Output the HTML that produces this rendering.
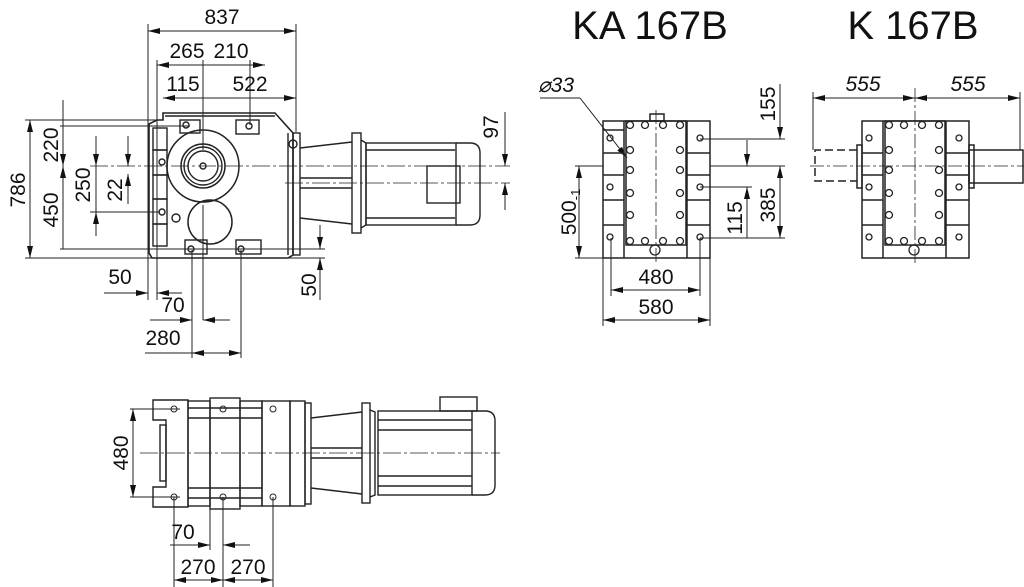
<!DOCTYPE html>
<html><head><meta charset="utf-8"><style>
html,body{margin:0;padding:0;background:#fff;}
svg{display:block;}
text{font-family:"Liberation Sans",sans-serif;fill:#111;}
.d{font-size:21px;}
.t{font-size:40px;}
</style></head><body>
<svg width="1024" height="587" viewBox="0 0 1024 587" xmlns="http://www.w3.org/2000/svg">
<defs>
<marker id="a" viewBox="0 0 12 6" refX="12" refY="3" markerWidth="12" markerHeight="6" orient="auto-start-reverse" markerUnits="userSpaceOnUse"><path d="M0,0 L12,3 L0,6 z" fill="#111"/></marker>
</defs>
<g stroke="#222" fill="none" stroke-width="1">
<line x1="148" y1="24" x2="148" y2="300"/>
<line x1="296" y1="24" x2="296" y2="132"/>
<line x1="157" y1="60" x2="157" y2="300"/>
<line x1="203" y1="60" x2="203" y2="150"/>
<line x1="203" y1="205" x2="203" y2="320"/>
<line x1="250" y1="60" x2="250" y2="125"/>
<line x1="192" y1="250" x2="192" y2="358"/>
<line x1="241" y1="250" x2="241" y2="358"/>
<line x1="25" y1="120" x2="160" y2="120"/>
<line x1="60" y1="126" x2="190" y2="126"/>
<line x1="25" y1="258" x2="325" y2="258"/>
<line x1="60" y1="249" x2="325" y2="249"/>
<line x1="90" y1="212" x2="160" y2="212"/>
<line x1="148" y1="31" x2="296" y2="31" marker-start="url(#a)" marker-end="url(#a)"/>
<line x1="157" y1="65" x2="265" y2="65" marker-start="url(#a)" marker-end="url(#a)"/>
<line x1="163" y1="98" x2="296" y2="98" marker-start="url(#a)" marker-end="url(#a)"/>
<line x1="30" y1="120" x2="30" y2="258" marker-start="url(#a)" marker-end="url(#a)"/>
<line x1="63" y1="100" x2="63" y2="166" marker-end="url(#a)"/>
<line x1="63" y1="166" x2="63" y2="249" marker-start="url(#a)"/>
<line x1="96" y1="136" x2="96" y2="236" />
<line x1="96" y1="136" x2="96" y2="166" marker-end="url(#a)"/>
<line x1="96" y1="212" x2="96" y2="236" marker-start="url(#a)"/>
<line x1="128" y1="136" x2="128" y2="166" marker-end="url(#a)"/>
<line x1="128" y1="174" x2="128" y2="204" marker-start="url(#a)"/>
<line x1="104" y1="293" x2="148" y2="293" marker-end="url(#a)"/>
<line x1="157" y1="293" x2="182" y2="293" marker-start="url(#a)"/>
<line x1="150" y1="320" x2="192" y2="320" marker-end="url(#a)"/>
<line x1="203" y1="320" x2="230" y2="320" marker-start="url(#a)"/>
<line x1="145" y1="353" x2="192" y2="353"/>
<line x1="192" y1="353" x2="241" y2="353" marker-start="url(#a)" marker-end="url(#a)"/>
<line x1="320" y1="225" x2="320" y2="249" marker-end="url(#a)"/>
<line x1="320" y1="258" x2="320" y2="300" marker-start="url(#a)"/>
<line x1="505" y1="112" x2="505" y2="166" marker-end="url(#a)"/>
<line x1="505" y1="183" x2="505" y2="210" marker-start="url(#a)"/>
<line x1="90" y1="166" x2="510" y2="166" stroke-dasharray="18,3,3,3" stroke-width="0.8"/>
<line x1="285" y1="183" x2="510" y2="183" stroke-dasharray="18,3,3,3" stroke-width="0.8"/>
<g stroke-width="1.4">
<path d="M163,113 L275,113 L293,133 L293,255 L288,258 L152,258 L149,253 L149,124 L157,120 L163,120 Z" stroke-width="1.6"/>
<line x1="165" y1="116" x2="275" y2="116"/>
<line x1="288" y1="133" x2="288" y2="255"/>
<rect x="293" y="133" width="7" height="122"/>
<rect x="153" y="128" width="14" height="22"/>
<rect x="153" y="150" width="14" height="25"/>
<rect x="153" y="175" width="14" height="24"/>
<rect x="153" y="199" width="14" height="25"/>
<rect x="153" y="224" width="14" height="22"/>
<rect x="180" y="120" width="20" height="13"/>
<rect x="236" y="120" width="23" height="14"/>
<rect x="185" y="240" width="22" height="14"/>
<rect x="236" y="240" width="25" height="14"/>
<circle cx="203" cy="166" r="36" stroke-width="1.5"/>
<circle cx="203" cy="166" r="22" stroke-width="1.5"/>
<circle cx="203" cy="166" r="19"/>
<circle cx="203" cy="166" r="15"/>
<circle cx="203" cy="166" r="3"/>
<circle cx="210" cy="222" r="22" stroke-width="1.5"/>
<circle cx="186" cy="125" r="3"/><circle cx="249" cy="126" r="3"/>
<circle cx="162" cy="162" r="3"/><circle cx="162" cy="212" r="3"/>
<circle cx="191" cy="249" r="3"/><circle cx="241" cy="249" r="3"/>
<circle cx="293" cy="144" r="4"/><circle cx="176" cy="218" r="4"/>
<path d="M300,148 L352,142 M300,218 L352,224 M300,178 L352,178 M300,188 L352,188"/>
<rect x="352" y="133" width="9" height="100"/>
<path d="M361,140 L366,143 L366,225 L361,228"/>
<rect x="366" y="143" width="90" height="82"/>
<path d="M456,143 L470,143 Q480,143 480,153 L480,215 Q480,225 470,225 L456,225"/>
<line x1="366" y1="150" x2="455" y2="150"/><line x1="366" y1="218" x2="455" y2="218"/>
<rect x="427" y="166" width="33" height="37"/>
</g>

<line x1="540" y1="98" x2="580" y2="98"/>
<line x1="580" y1="98" x2="627" y2="158" marker-end="url(#a)"/>
<line x1="579" y1="166" x2="579" y2="258" marker-start="url(#a)" marker-end="url(#a)"/>
<line x1="575" y1="166" x2="603" y2="166"/>
<line x1="575" y1="258" x2="603" y2="258"/>
<line x1="611" y1="238" x2="611" y2="296"/><line x1="700" y1="238" x2="700" y2="296"/>
<line x1="603" y1="258" x2="603" y2="326"/><line x1="710" y1="258" x2="710" y2="326"/>
<line x1="611" y1="290" x2="700" y2="290" marker-start="url(#a)" marker-end="url(#a)"/>
<line x1="603" y1="320" x2="710" y2="320" marker-start="url(#a)" marker-end="url(#a)"/>
<line x1="700" y1="139" x2="785" y2="139"/>
<line x1="700" y1="187" x2="752" y2="187"/>
<line x1="700" y1="238" x2="785" y2="238"/>
<line x1="710" y1="166" x2="785" y2="166"/>
<line x1="780" y1="84" x2="780" y2="139" marker-end="url(#a)"/>
<line x1="780" y1="166" x2="780" y2="238" marker-start="url(#a)" marker-end="url(#a)"/>
<line x1="747" y1="140" x2="747" y2="166" marker-end="url(#a)"/>
<line x1="747" y1="187" x2="747" y2="238" marker-start="url(#a)"/>
<line x1="656" y1="110" x2="656" y2="262" stroke-dasharray="14,3,3,3" stroke-width="0.8"/>
<g stroke-width="1.5">
<rect x="603" y="121" width="107" height="137"/>
<rect x="626" y="121" width="60" height="124"/>
<line x1="624" y1="121" x2="624" y2="258"/><line x1="687" y1="121" x2="687" y2="258"/>
<line x1="603" y1="130" x2="624" y2="130"/><line x1="603" y1="153" x2="624" y2="153"/>
<line x1="603" y1="175" x2="624" y2="175"/><line x1="603" y1="200" x2="624" y2="200"/><line x1="603" y1="225" x2="624" y2="225"/>
<line x1="687" y1="153" x2="710" y2="153"/><line x1="687" y1="175" x2="710" y2="175"/><line x1="687" y1="200" x2="710" y2="200"/><line x1="687" y1="225" x2="710" y2="225"/>
<rect x="650" y="114" width="14" height="7"/>
</g>
<g stroke-width="1.3">
<circle cx="610" cy="138" r="3"/><circle cx="700" cy="138" r="3"/>
<circle cx="610" cy="187" r="3"/><circle cx="700" cy="187" r="3"/>
<circle cx="610" cy="237" r="3"/><circle cx="700" cy="237" r="3"/>
<circle cx="630" cy="125" r="3.5"/><circle cx="645" cy="125" r="3.5"/><circle cx="663" cy="125" r="3.5"/><circle cx="680" cy="125" r="3.5"/>
<circle cx="630" cy="150" r="3.5"/><circle cx="680" cy="150" r="3.5"/>
<circle cx="630" cy="170" r="3.5"/><circle cx="680" cy="170" r="3.5"/>
<circle cx="630" cy="193" r="3.5"/><circle cx="680" cy="193" r="3.5"/>
<circle cx="630" cy="215" r="3.5"/><circle cx="680" cy="215" r="3.5"/>
<circle cx="630" cy="241" r="3.5"/><circle cx="645" cy="241" r="3.5"/><circle cx="663" cy="241" r="3.5"/><circle cx="680" cy="241" r="3.5"/>
<circle cx="655" cy="250" r="5"/>
</g>

<line x1="813" y1="92" x2="813" y2="150"/><line x1="1020" y1="92" x2="1020" y2="150"/>
<line x1="813" y1="98" x2="915" y2="98" marker-start="url(#a)" marker-end="url(#a)"/>
<line x1="915" y1="98" x2="1020" y2="98" marker-start="url(#a)" marker-end="url(#a)"/>
<line x1="915" y1="88" x2="915" y2="265" stroke-dasharray="14,3,3,3" stroke-width="0.8"/>
<line x1="810" y1="166" x2="1024" y2="166" stroke-dasharray="14,3,3,3" stroke-width="0.8"/>
<g stroke-width="1.5">
<rect x="862" y="121" width="107" height="137"/>
<rect x="885" y="121" width="60" height="124"/>
<line x1="883" y1="121" x2="883" y2="258"/><line x1="946" y1="121" x2="946" y2="258"/>
<line x1="862" y1="153" x2="883" y2="153"/><line x1="862" y1="175" x2="883" y2="175"/><line x1="862" y1="200" x2="883" y2="200"/><line x1="862" y1="225" x2="883" y2="225"/>
<line x1="946" y1="153" x2="969" y2="153"/><line x1="946" y1="175" x2="969" y2="175"/><line x1="946" y1="200" x2="969" y2="200"/><line x1="946" y1="225" x2="969" y2="225"/>
<rect x="969" y="150" width="54" height="33"/>
<rect x="969" y="145" width="5" height="43"/>
<rect x="857" y="145" width="5" height="43"/>
<path d="M857,150 L815,150 L815,181 L857,181" stroke-dasharray="8,4"/>
</g>
<g stroke-width="1.3">
<circle cx="869" cy="138" r="3"/><circle cx="959" cy="138" r="3"/>
<circle cx="869" cy="187" r="3"/><circle cx="959" cy="187" r="3"/>
<circle cx="869" cy="237" r="3"/><circle cx="959" cy="237" r="3"/>
<circle cx="889" cy="125" r="3.5"/><circle cx="904" cy="125" r="3.5"/><circle cx="922" cy="125" r="3.5"/><circle cx="939" cy="125" r="3.5"/>
<circle cx="889" cy="150" r="3.5"/><circle cx="939" cy="150" r="3.5"/>
<circle cx="889" cy="170" r="3.5"/><circle cx="939" cy="170" r="3.5"/>
<circle cx="889" cy="193" r="3.5"/><circle cx="939" cy="193" r="3.5"/>
<circle cx="889" cy="215" r="3.5"/><circle cx="939" cy="215" r="3.5"/>
<circle cx="889" cy="241" r="3.5"/><circle cx="904" cy="241" r="3.5"/><circle cx="922" cy="241" r="3.5"/><circle cx="939" cy="241" r="3.5"/>
<circle cx="914" cy="250" r="5"/>
</g>

<line x1="130" y1="409" x2="180" y2="409"/><line x1="130" y1="497" x2="180" y2="497"/>
<line x1="133" y1="409" x2="133" y2="497" marker-start="url(#a)" marker-end="url(#a)"/>
<line x1="140" y1="453" x2="500" y2="453" stroke-dasharray="18,3,3,3" stroke-width="0.8"/>
<line x1="174" y1="497" x2="174" y2="587"/>
<line x1="210" y1="497" x2="210" y2="550"/>
<line x1="223" y1="497" x2="223" y2="587"/>
<line x1="273" y1="497" x2="273" y2="587"/>
<line x1="170" y1="545" x2="210" y2="545" marker-end="url(#a)"/>
<line x1="223" y1="545" x2="250" y2="545" marker-start="url(#a)"/>
<line x1="174" y1="580" x2="223" y2="580" marker-start="url(#a)" marker-end="url(#a)"/>
<line x1="223" y1="580" x2="273" y2="580" marker-start="url(#a)" marker-end="url(#a)"/>
<g stroke-width="1.4">
<path d="M153,400 L188,400 L188,507 L153,507 L153,487 L166,487 L166,420 L153,420 Z"/>
<rect x="188" y="401" width="22" height="105"/>
<rect x="210" y="398" width="30" height="111"/>
<rect x="240" y="401" width="22" height="105"/>
<rect x="262" y="401" width="28" height="105"/>
<rect x="290" y="401" width="15" height="105"/>
<rect x="305" y="403" width="6" height="101"/>
<line x1="188" y1="408" x2="262" y2="408"/><line x1="188" y1="418" x2="262" y2="418"/>
<line x1="188" y1="488" x2="262" y2="488"/><line x1="188" y1="498" x2="262" y2="498"/>
<rect x="160" y="425" width="6" height="56"/>
<path d="M311,418 L362,412 M311,488 L362,494 M311,448 L362,448 M311,458 L362,458"/>
<rect x="362" y="403" width="8" height="100"/>
<path d="M370,410 L375,412 L375,495 L370,497"/>
<rect x="378" y="411" width="94" height="84"/>
<line x1="378" y1="420" x2="472" y2="420"/><line x1="378" y1="430" x2="472" y2="430"/>
<line x1="378" y1="476" x2="472" y2="476"/><line x1="378" y1="486" x2="472" y2="486"/>
<path d="M472,411 L485,411 Q495,411 495,421 L495,485 Q495,495 485,495 L472,495"/>
<rect x="440" y="397" width="37" height="14"/>
</g>
<circle cx="174" cy="409" r="3"/><circle cx="223" cy="409" r="3"/><circle cx="273" cy="409" r="3"/>
<circle cx="174" cy="497" r="3"/><circle cx="223" cy="497" r="3"/><circle cx="273" cy="497" r="3"/>
</g>

<text class="d" x="222" y="24" text-anchor="middle">837</text>
<text class="d" x="187" y="58" text-anchor="middle">265</text>
<text class="d" x="231" y="58" text-anchor="middle">210</text>
<text class="d" x="183" y="91" text-anchor="middle">115</text>
<text class="d" x="250" y="91" text-anchor="middle">522</text>
<text class="d" transform="translate(25,190) rotate(-90)" text-anchor="middle">786</text>
<text class="d" transform="translate(58,145) rotate(-90)" text-anchor="middle">220</text>
<text class="d" transform="translate(58,210) rotate(-90)" text-anchor="middle">450</text>
<text class="d" transform="translate(90,185) rotate(-90)" text-anchor="middle">250</text>
<text class="d" transform="translate(122,190) rotate(-90)" text-anchor="middle">22</text>
<text class="d" x="120" y="284" text-anchor="middle">50</text>
<text class="d" x="173" y="312" text-anchor="middle">70</text>
<text class="d" x="163" y="345" text-anchor="middle">280</text>
<text class="d" transform="translate(316,285) rotate(-90)" text-anchor="middle">50</text>
<text class="d" transform="translate(498,127) rotate(-90)" text-anchor="middle">97</text>

<text class="t" x="650" y="39" text-anchor="middle">KA 167B</text>
<text class="t" x="913" y="39" text-anchor="middle">K 167B</text>
<text class="d" x="538" y="92" font-style="italic">⌀33</text>
<text class="d" transform="translate(576,212) rotate(-90)" text-anchor="middle">500<tspan font-size="13" dy="4">-1</tspan></text>
<text class="d" x="656" y="284" text-anchor="middle">480</text>
<text class="d" x="656" y="314" text-anchor="middle">580</text>
<text class="d" transform="translate(775,104) rotate(-90)" text-anchor="middle">155</text>
<text class="d" transform="translate(775,205) rotate(-90)" text-anchor="middle">385</text>
<text class="d" transform="translate(742,218) rotate(-90)" text-anchor="middle">115</text>
<text class="d" x="863" y="91" text-anchor="middle" font-style="italic">555</text>
<text class="d" x="968" y="91" text-anchor="middle" font-style="italic">555</text>

<text class="d" transform="translate(128,453) rotate(-90)" text-anchor="middle">480</text>
<text class="d" x="183" y="539" text-anchor="middle">70</text>
<text class="d" x="198" y="574" text-anchor="middle">270</text>
<text class="d" x="248" y="574" text-anchor="middle">270</text>
</svg>
</body></html>
